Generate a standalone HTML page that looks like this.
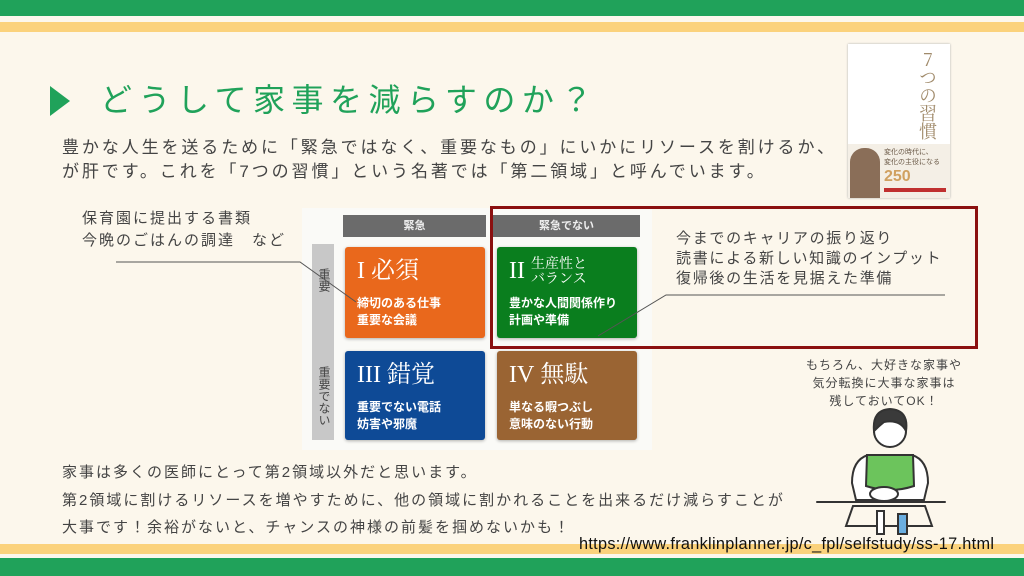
<!DOCTYPE html>
<html><head><meta charset="utf-8"><style>
*{margin:0;padding:0;box-sizing:border-box}
body{width:1024px;height:576px;background:#fcf7ec;position:relative;overflow:hidden;font-family:"Liberation Sans","Noto Sans CJK JP",sans-serif;color:#444}
.a{position:absolute;white-space:nowrap}
.jp{font-family:"Liberation Sans","Noto Sans CJK JP",sans-serif}
.cell{position:absolute;border-radius:3px;color:#fff;box-shadow:0 1px 3px rgba(0,0,0,.3)}
.cell .t{position:absolute;left:12px;top:10px;font-family:"Liberation Serif","Noto Serif CJK SC",serif;font-size:24px;line-height:28px}
.cell .d{position:absolute;left:12px;top:48px;font-size:12px;line-height:17px;font-weight:bold}
</style></head><body>
<div class="a" style="left:0;top:0;width:1024px;height:16px;background:#20a25a"></div>
<div class="a" style="left:0;top:22px;width:1024px;height:10px;background:#fbd27c"></div>
<div class="a" style="left:0;top:544px;width:1024px;height:10px;background:#fbd27c"></div>
<div class="a" style="left:0;top:558px;width:1024px;height:18px;background:#20a25a"></div>

<div class="a" style="left:50px;top:86px;width:0;height:0;border-top:15px solid transparent;border-bottom:15px solid transparent;border-left:20px solid #20a25a"></div>
<div class="a" style="left:100px;top:80px;font-size:32px;letter-spacing:6.5px;color:#20a25a;line-height:40px">どうして家事を減らすのか？</div>

<div class="a" style="left:62px;top:136px;font-size:17px;letter-spacing:2.9px;line-height:24px;color:#444">豊かな人生を送るために「緊急ではなく、重要なもの」にいかにリソースを割けるか、<br>が肝です。これを「7つの習慣」という名著では「第二領域」と呼んでいます。</div>

<!-- book -->
<div class="a" style="left:848px;top:44px;width:102px;height:154px;background:#fff;box-shadow:0 0 2px #aaa">
 <div class="a" style="left:70px;top:6px;font-family:'Noto Serif CJK SC',serif;font-size:18px;line-height:20px;color:#a08a6a;writing-mode:vertical-rl;text-orientation:upright">7つの習慣</div>
 <div class="a" style="left:0;top:100px;width:102px;height:54px;background:#f4efe6"></div>
 <div class="a" style="left:2px;top:104px;width:30px;height:50px;background:#8a6e58;border-radius:14px 14px 0 0"></div>
 <div class="a" style="left:36px;top:104px;font-size:7px;line-height:10px;color:#6b5a48">変化の時代に、<br>変化の主役になる</div>
 <div class="a" style="left:36px;top:124px;font-size:16px;font-weight:bold;color:#d0a060">250</div>
 <div class="a" style="left:36px;top:144px;width:62px;height:4px;background:#c03030"></div>
</div>

<!-- matrix -->
<div class="a" style="left:302px;top:208px;width:350px;height:242px;background:#fafaf7"></div>
<div class="a jp" style="left:343px;top:215px;width:143px;height:22px;background:#6b6b6b;color:#eee;font-size:11px;font-weight:bold;text-align:center;line-height:22px">緊急</div>
<div class="a jp" style="left:493px;top:215px;width:147px;height:22px;background:#6b6b6b;color:#eee;font-size:11px;font-weight:bold;text-align:center;line-height:22px">緊急でない</div>
<div class="a" style="left:312px;top:244px;width:22px;height:196px;background:#c8c8c8"></div>
<div class="a" style="left:316px;top:268px;font-size:12px;line-height:15px;color:#444;writing-mode:vertical-rl">重要</div>
<div class="a" style="left:316px;top:366px;font-size:12px;line-height:15px;color:#444;writing-mode:vertical-rl">重要でない</div>

<div class="cell" style="left:345px;top:247px;width:140px;height:91px;background:#e9681c"><div class="t">I&nbsp;必須</div><div class="d">締切のある仕事<br>重要な会議</div></div>
<div class="cell" style="left:497px;top:247px;width:140px;height:91px;background:#0a7e1e"><div class="t" style="font-size:24px">II<span style="font-size:14px;line-height:15px;display:inline-block;vertical-align:top;margin-left:6px">生産性と<br>バランス</span></div><div class="d">豊かな人間関係作り<br>計画や準備</div></div>
<div class="cell" style="left:345px;top:351px;width:140px;height:89px;background:#0e4a96"><div class="t">III&nbsp;錯覚</div><div class="d">重要でない電話<br>妨害や邪魔</div></div>
<div class="cell" style="left:497px;top:351px;width:140px;height:89px;background:#9a6433"><div class="t">IV&nbsp;無駄</div><div class="d">単なる暇つぶし<br>意味のない行動</div></div>

<div class="a" style="left:490px;top:206px;width:488px;height:143px;border:3px solid #8b1010"></div>

<div class="a" style="left:82px;top:208px;font-size:15px;letter-spacing:2px;line-height:22px;color:#444">保育園に提出する書類<br>今晩のごはんの調達　など</div>
<div class="a" style="left:676px;top:229px;font-size:15px;letter-spacing:1.7px;line-height:20px;color:#444">今までのキャリアの振り返り<br>読書による新しい知識のインプット<br>復帰後の生活を見据えた準備</div>

<svg class="a" style="left:0;top:0" width="1024" height="576">
 <polyline points="116,262 300,262 356,302" fill="none" stroke="#555" stroke-width="1"/>
 <polyline points="945,295 666,295 598,336" fill="none" stroke="#555" stroke-width="1"/>
 <g stroke="#333" stroke-width="2" fill="none" stroke-linecap="round">
  <path d="M852,483 Q852,460 868,455 L912,455 Q928,460 928,483 L924,500 L856,500 Z" fill="#fff"/>
  <path d="M867,455 L866,486 Q890,494 914,486 L913,455 Z" fill="#6cc45c"/>
  <circle cx="890" cy="431" r="16" fill="#fff"/>
  <path d="M874,431 Q872,410 890,409 Q909,410 906,431 Q900,419 884,422 Q879,426 874,431 Z" fill="#3a3a3a"/>
  <ellipse cx="884" cy="494" rx="14" ry="7" fill="#fff"/>
  <line x1="817" y1="502" x2="945" y2="502"/>
  <path d="M846,526 L853,506 L925,506 L932,526 Z"/>
  <rect x="877" y="511" width="7" height="23" fill="#fff"/>
  <rect x="898" y="514" width="9" height="20" fill="#6aaee0"/>
 </g>
</svg>
<div class="a" style="left:804px;top:356px;width:160px;text-align:center;font-size:12px;letter-spacing:1px;line-height:18px;color:#444">もちろん、大好きな家事や<br>気分転換に大事な家事は<br>残しておいてOK！</div>

<div class="a" style="left:62px;top:459px;font-size:15px;letter-spacing:2px;line-height:27.5px;color:#444">家事は多くの医師にとって第2領域以外だと思います。<br>第2領域に割けるリソースを増やすために、他の領域に割かれることを出来るだけ減らすことが<br>大事です！余裕がないと、チャンスの神様の前髪を掴めないかも！</div>

<div class="a" style="left:579px;top:535px;font-size:16.3px;color:#111;letter-spacing:0.3px">https://www.franklinplanner.jp/c_fpl/selfstudy/ss-17.html</div>
</body></html>
